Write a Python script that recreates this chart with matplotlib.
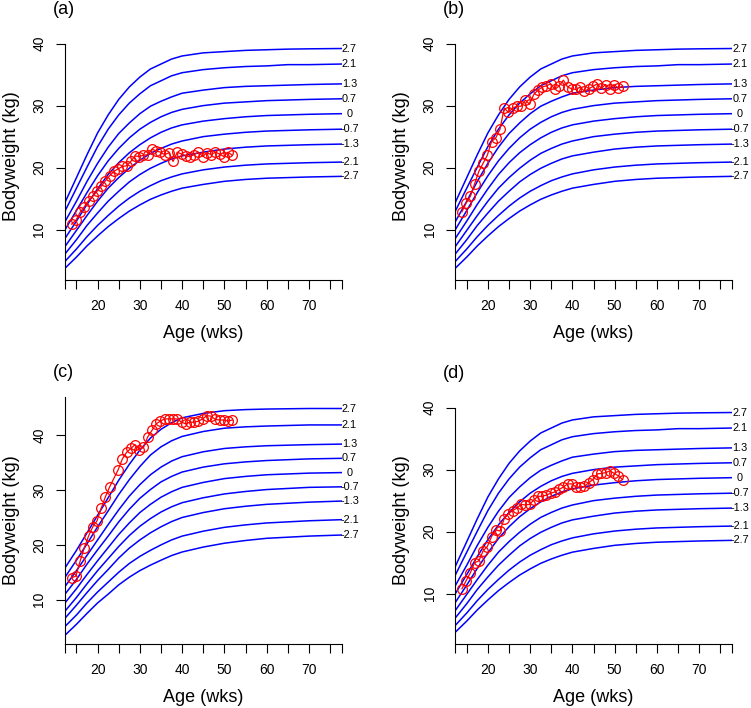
import matplotlib.pyplot as plt
import numpy as np

plt.rcParams['font.family'] = ['Liberation Sans', 'DejaVu Sans']

# z-score of every reference curve, top to bottom
z_labels = ['2.7', '2.1', '1.3', '0.7', '0', '-0.7', '-1.3', '-2.1', '-2.7']

curve_age = [86 / 7, 15, 17.5, 20, 22.5, 25, 27.5, 30, 32.5, 35, 37.5, 40,
             45, 50, 55, 60, 65, 70, 544 / 7]

# reference curves of panels (a), (b), (d)
curves_abd = [
    [14.4, 18.4, 22.1, 25.6, 28.5, 31.0, 33.0, 34.6, 35.9, 36.7, 37.5, 38.0, 38.5, 38.7, 38.9, 39.0, 39.1, 39.15, 39.2],
    [13.0, 16.7, 20.1, 23.4, 26.2, 28.5, 30.4, 31.9, 33.2, 34.0, 34.8, 35.3, 35.8, 36.1, 36.3, 36.4, 36.6, 36.6, 36.7],
    [11.3, 14.6, 17.8, 20.7, 23.3, 25.5, 27.2, 28.7, 29.9, 30.7, 31.4, 32.0, 32.5, 32.9, 33.1, 33.2, 33.3, 33.4, 33.5],
    [10.0, 13.1, 16.0, 18.7, 21.1, 23.1, 24.8, 26.2, 27.3, 28.2, 28.9, 29.4, 30.0, 30.4, 30.6, 30.8, 30.9, 31.0, 31.1],
    [8.6, 11.4, 14.1, 16.6, 18.9, 20.8, 22.4, 23.7, 24.8, 25.7, 26.4, 26.9, 27.5, 27.9, 28.2, 28.4, 28.5, 28.6, 28.7],
    [7.3, 9.9, 12.3, 14.6, 16.7, 18.4, 19.9, 21.2, 22.3, 23.1, 23.8, 24.3, 25.0, 25.4, 25.7, 25.9, 26.0, 26.1, 26.2],
    [6.1, 8.4, 10.7, 12.7, 14.6, 16.2, 17.7, 18.9, 19.9, 20.7, 21.4, 21.9, 22.5, 23.0, 23.3, 23.5, 23.6, 23.7, 23.8],
    [4.9, 6.9, 8.9, 10.7, 12.3, 13.8, 15.1, 16.2, 17.1, 17.9, 18.5, 19.0, 19.65, 20.1, 20.4, 20.6, 20.7, 20.8, 20.9],
    [3.8, 5.6, 7.4, 9.0, 10.5, 11.8, 13.0, 14.0, 14.9, 15.6, 16.2, 16.7, 17.3, 17.8, 18.1, 18.3, 18.4, 18.5, 18.6],
]

# reference curves of panel (c)
curves_c = [
    [15.8, 19.0, 22.2, 25.4, 28.6, 31.8, 34.7, 37.3, 39.5, 41.1, 42.3, 43.2, 44.0, 44.5, 44.7, 44.8, 44.85, 44.9, 44.9],
    [14.1, 17.2, 20.2, 23.3, 26.2, 29.2, 31.9, 34.3, 36.4, 37.9, 39.0, 39.8, 40.7, 41.3, 41.55, 41.7, 41.8, 41.9, 41.9],
    [12.4, 15.3, 18.1, 20.9, 23.7, 26.4, 28.9, 31.0, 32.8, 34.2, 35.3, 36.1, 37.0, 37.6, 37.9, 38.1, 38.2, 38.3, 38.4],
    [11.0, 13.7, 16.5, 19.1, 21.6, 24.2, 26.5, 28.5, 30.1, 31.5, 32.5, 33.3, 34.2, 34.8, 35.15, 35.4, 35.55, 35.7, 35.8],
    [9.4, 12.0, 14.6, 17.1, 19.5, 21.9, 24.0, 25.9, 27.4, 28.7, 29.7, 30.5, 31.4, 32.1, 32.5, 32.8, 32.95, 33.1, 33.2],
    [7.9, 10.4, 12.9, 15.3, 17.5, 19.7, 21.7, 23.4, 24.8, 26.0, 26.95, 27.7, 28.6, 29.3, 29.75, 30.1, 30.3, 30.5, 30.6],
    [6.6, 9.0, 11.3, 13.5, 15.5, 17.6, 19.4, 20.9, 22.2, 23.3, 24.25, 25.0, 25.9, 26.6, 27.05, 27.4, 27.6, 27.8, 28.0],
    [5.1, 7.2, 9.4, 11.4, 13.2, 15.0, 16.6, 17.9, 19.0, 20.0, 20.9, 21.6, 22.5, 23.2, 23.65, 24.0, 24.2, 24.4, 24.6],
    [3.5, 5.5, 7.5, 9.4, 11.0, 12.7, 14.1, 15.3, 16.3, 17.2, 18.05, 18.7, 19.6, 20.3, 20.8, 21.2, 21.4, 21.6, 21.8],
]

# weekly bodyweights (kg)
wk_age = np.arange(97, 364, 7) / 7
wk_age_c = np.delete(wk_age, 10)  # no weighing in week 24 for (c)

wt_a = [10.9, 11.5, 12.8, 13.7, 14.7, 15.4, 16.2, 17.0, 17.9, 18.7, 19.4, 19.8, 20.2,
        20.3, 21.0, 21.9, 21.8, 22.0, 22.1, 23.0, 22.7, 22.5, 22.1, 22.4, 21.0, 22.5,
        22.2, 21.9, 21.8, 22.1, 22.5, 21.8, 22.4, 22.1, 22.5, 22.2, 21.8, 22.5, 22.0]
wt_b = [12.9, 14.3, 15.4, 17.4, 19.4, 20.7, 22.0, 24.2, 24.8, 26.2, 29.6, 28.9, 29.6,
        29.9, 29.9, 30.9, 30.2, 31.8, 32.5, 33.0, 33.2, 33.5, 32.6, 33.2, 34.1, 33.0,
        32.7, 32.6, 33.0, 32.3, 32.7, 33.1, 33.5, 32.8, 33.4, 32.7, 33.4, 32.8, 33.1]
wt_c = [14.0, 14.3, 17.0, 19.5, 21.6, 23.3, 24.4, 26.7, 28.8, 30.6, 33.7, 35.7, 36.9,
        37.6, 38.3, 37.4, 37.8, 39.7, 40.9, 42.1, 42.6, 43.0, 43.0, 43.0, 43.0, 42.4,
        42.1, 42.4, 42.4, 42.6, 43.0, 43.6, 43.5, 42.9, 42.8, 42.8, 42.6, 42.8]
wt_d = [10.8, 12.1, 13.4, 15.0, 15.3, 16.9, 17.6, 19.2, 20.3, 20.1, 22.1, 22.9, 23.4,
        23.8, 24.4, 24.3, 24.4, 25.1, 25.7, 25.7, 25.9, 26.2, 26.4, 26.8, 27.2, 27.7,
        27.7, 27.2, 27.2, 27.3, 27.9, 28.4, 29.3, 29.4, 29.5, 29.8, 29.4, 29.0, 28.4]

W, H = 751, 708
fig = plt.figure(figsize=(W / 100, H / 100), dpi=100)


def panel(left, bottom, curves, ages, wts, ytop, axtop, tag, tag_xy):
    ax = fig.add_axes([left / W, 1 - bottom / H, 276.5 / W, 247 / H])
    for c, lab in zip(curves, z_labels):
        ax.plot(curve_age, c, color='blue', linewidth=1.1)
        ax.text(79.6, c[-1], lab, ha='center', va='center', fontsize=7.8, clip_on=False)
    ax.plot(ages, wts, color='red', linewidth=0.9, marker='o', markersize=7,
            markerfacecolor='none', markeredgecolor='red', markeredgewidth=0.9)

    ax.set_xlim(86 / 7, 544 / 7)
    ax.set_ylim(1.9, ytop)
    for s in ['top', 'right']:
        ax.spines[s].set_visible(False)
    ax.spines['left'].set_bounds(1.9, axtop)
    ax.spines['bottom'].set_bounds(86 / 7, 544 / 7)

    # ticks every 5 wks, labels every 10
    ax.set_xticks([86 / 7] + list(range(15, 80, 5)) + [544 / 7])
    ax.set_xticklabels([''] + ['' if t % 10 else str(t) for t in range(15, 80, 5)] + [''])
    ax.set_yticks([10, 20, 30, 40])
    ax.tick_params(direction='out', length=6.5, width=0.8, labelsize=10, pad=7)
    for t in ax.get_yticklabels():
        t.set_rotation(90)
        t.set_va('center')

    ax.set_xlabel('Age (wks)', fontsize=13, labelpad=9)
    ax.set_ylabel('Bodyweight (kg)', fontsize=13, labelpad=9)
    fig.text(tag_xy[0] / W, 1 - tag_xy[1] / H, tag, fontsize=13, va='center', ha='left')
    return ax


panel(65, 280, curves_abd, wk_age, wt_a, 41.7, 40, '(a)', (53, 9))
panel(455.3, 280, curves_abd, wk_age, wt_b, 41.7, 40, '(b)', (443, 9))
panel(65, 644, curves_c, wk_age_c, wt_c, 47.0, 47.0, '(c)', (53, 372))
panel(455.3, 644, curves_abd, wk_age, wt_d, 41.7, 40, '(d)', (443, 373))

plt.savefig('out.png', dpi=100)
